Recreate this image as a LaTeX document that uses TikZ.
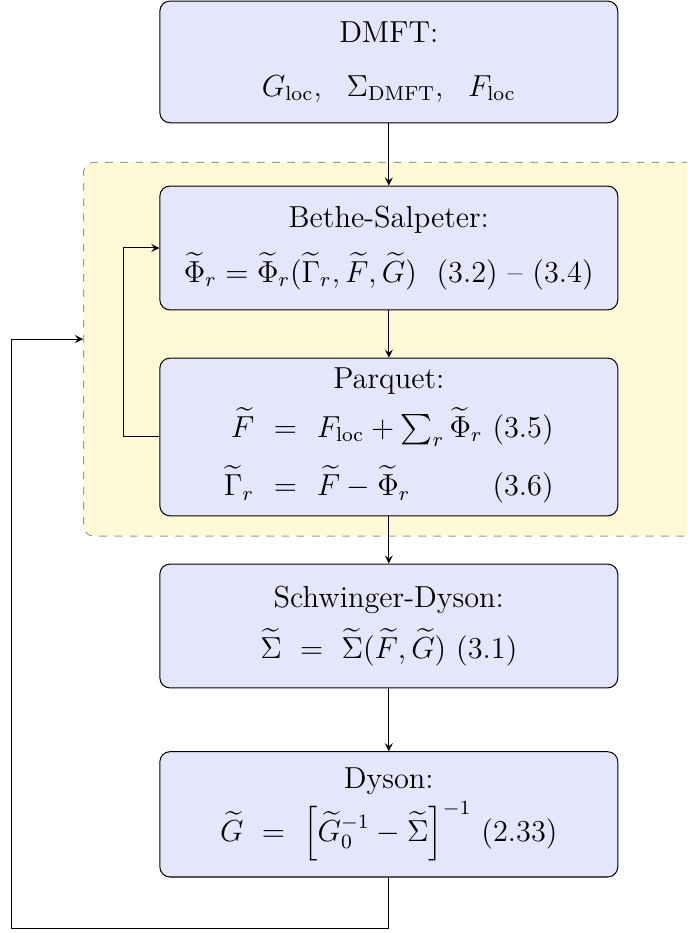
\documentclass[tikz,border=0pt]{standalone}
\usepackage{amsmath}
\usetikzlibrary{arrows,positioning,calc}
\definecolor{boxblue}{RGB}{229,229,252}
\definecolor{loopyellow}{RGB}{255,249,214}

\begin{document}
\begin{tikzpicture}[
    stage/.style={rectangle, draw=black, fill=boxblue, rounded corners, minimum width=6.36cm, minimum height=1.72cm, align=center, font=\large},
    region/.style={rectangle, draw=gray!80, dashed, fill=loopyellow, rounded corners, minimum width=8.56cm, minimum height=5.19cm},
    arrow/.style={->, >=stealth}
]
\path[use as bounding box] (0,0) rectangle (9.542,-12.958);
\clip (0,0) rectangle (9.542,-12.958);

% self-consistency loop
\node[region] (loop) at (5.44,-4.85) {};

\node[stage, minimum height=1.69cm] (dmft) at (5.40,-0.86) {DMFT:\\[2.5mm] $G_{\rm loc},\ \ \Sigma_{\rm DMFT},\ \ F_{\rm loc}$};
\node[stage] (bse) at (5.40,-3.444) {Bethe-Salpeter:\\[2.3mm] $\widetilde\Phi_r = \widetilde\Phi_r(\widetilde\Gamma_r,\widetilde F,\widetilde G)$ \ (3.2) -- (3.4)};
\node[stage, minimum height=2.19cm] (parquet) at (5.40,-6.069) {Parquet:\\[1.5mm]
    $\begin{array}[t]{r@{\ \ =\ \ }l@{\ }r}
    \widetilde F & F_{\rm loc} + \sum_r \widetilde\Phi_r & (3.5)\\[2.5mm]
    \widetilde\Gamma_r & \widetilde F - \widetilde\Phi_r & (3.6)
    \end{array}$};
\node[stage] (sde) at (5.40,-8.694) {Schwinger-Dyson:\\[1.8mm] $\widetilde\Sigma \ = \ \widetilde\Sigma(\widetilde F,\widetilde G)$ (3.1)};
\node[stage, minimum height=1.74cm] (dyson) at (5.40,-11.31) {Dyson:\\[0.6mm] $\widetilde G \ = \ \Big[\widetilde G_0^{-1} - \widetilde\Sigma\Big]^{-1}$ (2.33)};

\coordinate (entry) at (loop.west |- 0,-4.71);

\draw[arrow] (dmft) -- (bse);
\draw[arrow] (bse) -- (parquet);
\draw[arrow] (parquet) -- (sde);
\draw[arrow] (sde) -- (dyson);
\draw[arrow] (parquet.west) -- ++(-0.5,0) |- (bse.west);
\draw[arrow] (dyson.south) -- ++(0,-0.71) -| ([xshift=-1cm]entry) -- (entry);

\end{tikzpicture}
\end{document}
